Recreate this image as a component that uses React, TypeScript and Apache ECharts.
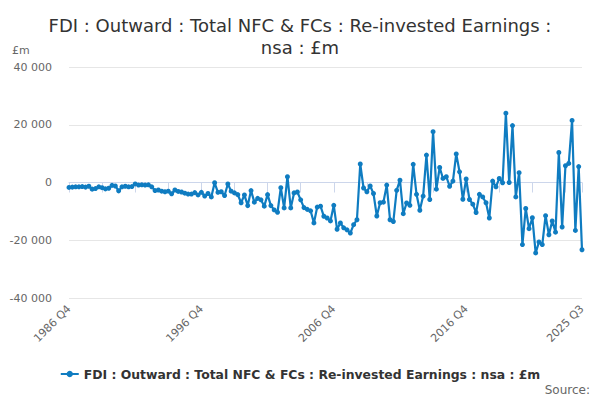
import { useEffect, useRef } from "react";
import * as echarts from "echarts";

const TITLE = "FDI : Outward : Total NFC & FCs : Re-invested Earnings :\nnsa : £m";
const SERIES_NAME = "FDI : Outward : Total NFC & FCs : Re-invested Earnings : nsa : £m";

// quarters from 1986 Q4 to 2025 Q3
const quarters: string[] = [];
for (let year = 1986; year <= 2025; year += 1) {
  for (let q = 1; q <= 4; q += 1) {
    if (year === 1986 && q < 4) continue;
    if (year === 2025 && q > 3) continue;
    quarters.push(`${year} Q${q}`);
  }
}

const values = [
  -1700, -1600, -1500, -1500, -1400, -1600, -1300, -2300, -2100, -1500,
  -1800, -2200, -2000, -1000, -1200, -2900, -1500, -1300, -1500, -1400,
  -500, -900, -800, -900, -800, -1500, -2800, -2600, -3000, -3200,
  -3000, -3900, -2600, -3100, -3300, -3700, -4000, -4000, -3500, -4300,
  -3400, -4700, -3800, -5000, -100, -3400, -3200, -4500, -500, -3000,
  -3600, -4200, -7000, -4300, -8000, -2800, -6800, -5500, -6000, -8200,
  -4200, -8000, -9500, -10300, -1800, -8800, 2000, -8800, -3600, -3300,
  -6000, -8700, -9300, -9800, -14000, -8500, -8200, -11700, -12300, -13300,
  -7900, -16200, -14000, -15700, -16400, -17500, -14600, -12900, 6400, -1900,
  -3200, -1200, -3800, -11600, -7000, -6800, -900, -12900, -13500, -2700,
  800, -10800, -7100, -7900, 6300, -4100, -9600, -4700, 9500, -5900,
  17600, -2300, 5200, 1400, 2000, -1300, 500, 9900, 3700, -5800,
  1200, -5900, -7500, -10400, -4100, -5000, -7000, -12300, 500, -1500,
  1400, -100, 24000, 0, 19700, -5000, 3400, -21500, -9000, -16000,
  -12200, -24400, -20600, -21500, -11500, -18100, -13300, -17200, 10400, -15400,
  5800, 6600, 21500, -16600, 5500, -23300
];

const LINE_COLOR = "#0f7cc1";
const FONT = "DejaVu Sans, sans-serif";

const formatThousands = (value: number) =>
  String(value).replace(/\B(?=(\d{3})+(?!\d))/g, " ");

export default function App() {
  const hostRef = useRef<HTMLDivElement>(null);

  useEffect(() => {
    const host = hostRef.current;
    if (host === null) return;
    const chart = echarts.init(host, undefined, { renderer: "svg" });
    const last = quarters.length - 1;
    chart.setOption({
      animation: false,
      backgroundColor: "#ffffff",
      textStyle: { fontFamily: FONT },
      title: {
        text: TITLE,
        left: "center",
        top: 9,
        textStyle: { fontSize: 18, fontWeight: "normal", color: "#333333", lineHeight: 22, fontFamily: FONT }
      },
      graphic: [
        {
          type: "text",
          left: 12,
          top: 45,
          style: { text: "£m", fontSize: 11, fill: "#666666", fontFamily: FONT }
        },
        {
          type: "text",
          right: 10,
          bottom: 4,
          style: { text: "Source:", fontSize: 12, fill: "#666666", fontFamily: FONT }
        }
      ],
      legend: {
        data: [SERIES_NAME],
        left: "center",
        top: 363,
        itemWidth: 18,
        itemHeight: 8,
        itemGap: 6,
        textStyle: { fontSize: 12.4, fontWeight: "bold", color: "#333333", fontFamily: FONT }
      },
      grid: { left: 69, right: 18, top: 67, bottom: 102, containLabel: false },
      xAxis: {
        type: "category",
        data: quarters,
        boundaryGap: false,
        axisLine: { lineStyle: { color: "#ccd6eb" } },
        axisTick: {
          length: 10,
          interval: (index: number) => index % 10 === 0 || index === last,
          lineStyle: { color: "#ccd6eb" }
        },
        axisLabel: {
          interval: (index: number) => index % 40 === 0 || index === last,
          rotate: 45,
          fontSize: 11,
          color: "#666666",
          margin: 9,
          fontFamily: FONT
        },
        splitLine: { show: false }
      },
      yAxis: {
        type: "value",
        min: -40000,
        max: 40000,
        interval: 20000,
        axisLine: { show: false },
        axisTick: { show: false },
        axisLabel: {
          fontSize: 11,
          color: "#666666",
          margin: 17,
          fontFamily: FONT,
          formatter: (value: number) => formatThousands(value)
        },
        splitLine: { lineStyle: { color: "#e6e6e6" } }
      },
      series: [
        {
          name: SERIES_NAME,
          type: "line",
          data: values,
          symbol: "circle",
          symbolSize: 5,
          showAllSymbol: true,
          lineStyle: { color: LINE_COLOR, width: 2.2 },
          itemStyle: { color: LINE_COLOR }
        }
      ]
    });
    return () => chart.dispose();
  }, []);

  return (
    <div
      ref={hostRef}
      style={{ position: "fixed", left: 0, top: 0, width: 600, height: 400 }}
    />
  );
}
